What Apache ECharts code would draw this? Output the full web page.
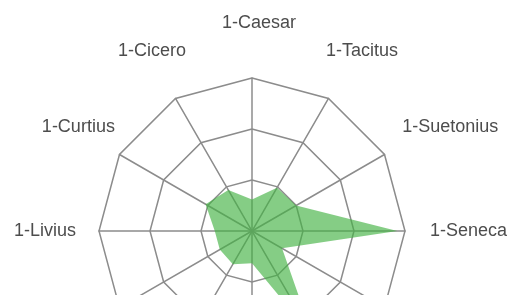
<!DOCTYPE html>
<html>
<head>
<meta charset="utf-8">
<script src="https://cdn.jsdelivr.net/npm/echarts@6/dist/echarts.min.js"></script>
<style>
html,body{margin:0;padding:0;background:#fff;}
#main{width:526px;height:295px;}
</style>
</head>
<body>
<div id="main"></div>
<script>
var indicatorNames = ['1-Caesar','1-Cicero','1-Curtius','1-Livius','1-Lucretius','1-Nepos','1-Ovidius','1-Plinius','1-Sallustius','1-Seneca','1-Suetonius','1-Tacitus'];
var maxValue = 3;
var seriesValues = [0.62, 0.93, 1.05, 0.73, 0.73, 0.75, 0.63, 2.4, 0.68, 2.85, 1.0, 0.98];

var CX = 252, CY = 231, R = 153, LABEL_R = R + 55, LABEL_SHIFT = 30;

var labels = indicatorNames.map(function(n, i){
  var a = (90 + i * 360 / indicatorNames.length) * Math.PI / 180;
  return {
    type:'text',
    x: CX + Math.cos(a) * LABEL_R - LABEL_SHIFT,
    y: CY - Math.sin(a) * LABEL_R,
    silent:true,
    style:{
      text:n, fill:'#4d4d4d', fontSize:18,
      fontFamily:'Liberation Sans, Arial, sans-serif',
      align:'left', verticalAlign:'middle'
    }
  };
});

var chart = echarts.init(document.getElementById('main'), null, {renderer:'canvas'});
chart.setOption({
  animation:false,
  radar:{
    center:[CX,CY],
    radius:R,
    startAngle:90,
    splitNumber:3,
    shape:'polygon',
    indicator: indicatorNames.map(function(n){return {name:n, max:maxValue};}),
    axisName:{show:false},
    splitArea:{show:false},
    splitLine:{lineStyle:{color:'#8c8c8c', width:1.5}},
    axisLine:{lineStyle:{color:'#8c8c8c', width:1.5}}
  },
  graphic: labels,
  series:[{
    type:'radar',
    symbol:'none',
    lineStyle:{width:0},
    areaStyle:{color:'rgb(67,178,67)', opacity:0.65},
    data:[{value:seriesValues}]
  }]
});
</script>
</body>
</html>
